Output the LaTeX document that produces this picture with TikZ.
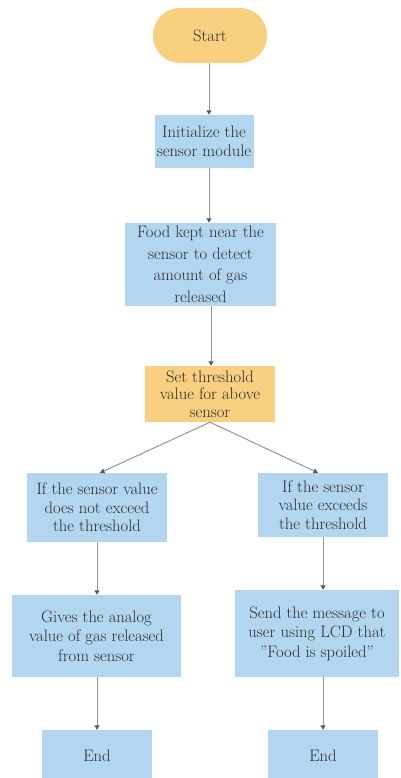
\documentclass[tikz,border=0pt]{standalone}
\usetikzlibrary{arrows.meta,calc}
\definecolor{boxblue}{RGB}{178,214,240}
\definecolor{boxorange}{RGB}{249,208,128}
\definecolor{linegray}{RGB}{150,150,150}
\definecolor{textgray}{RGB}{45,45,45}
\definecolor{tipgray}{RGB}{90,90,90}
\begin{document}
\begin{tikzpicture}[x=1pt,y=-1pt,
  every node/.style={font=\fontsize{16.6}{19.5}\selectfont, text=textgray, align=center, inner sep=0pt},
  blue/.style={fill=boxblue, minimum width=#1},
  orangebox/.style={fill=boxorange},
  conn/.style={draw=linegray, line width=1pt, -{Triangle[width=5pt,length=4.5pt,color=tipgray]}}
]
\useasboundingbox (0,0) rectangle (401,778);
\fill[white] (0,0) rectangle (401,778);

\node[fill=boxorange, minimum width=114pt, minimum height=55pt, rounded corners=27pt] (start) at (210,35.5) {Start};
\node[blue=99pt, minimum height=53pt] (init) at (204,141.5) {Initialize the\\sensor module};
\node[blue=151pt, minimum height=83pt] (food) at (200.5,264.5) {Food kept near the\\[2pt]sensor to detect\\[2pt]amount of gas\\[2pt]released};
\node[orangebox, minimum width=130pt, minimum height=56pt] (thr) at (210,394) {Set threshold\\[-2pt]value for above\\[-2pt]sensor};
\node[blue=140pt, minimum height=69pt] (condL) at (97,507.5) {If the sensor value\\[-1pt]does not exceed\\[-1pt]the threshold};
\node[blue=130pt, minimum height=64pt] (condR) at (323,505) {If the sensor\\[-1pt]value exceeds\\[-1pt]the threshold};
\node[blue=169pt, minimum height=82pt] (actL) at (96.5,636) {Gives the analog\\value of gas released\\from sensor};
\node[blue=164pt, minimum height=87pt] (actR) at (317,633.5) {Send the message to\\user using LCD that\\"Food is spoiled"};
\node[blue=110pt, minimum height=52pt] (endL) at (97,756) {End};
\node[blue=110pt, minimum height=52pt] (endR) at (323,756) {End};

\coordinate (a1) at ($(start.south)+(-1,0)$);
\draw[conn] (a1) -- (a1 |- init.north);
\coordinate (a2) at (209,0);
\draw[conn] (a2 |- init.south) -- (a2 |- food.north);
\coordinate (a3) at (211,0);
\draw[conn] (a3 |- food.south) -- (a3 |- thr.north);
\draw[conn] (thr.south) -- ($(condL.north)+(3,0)$);
\draw[conn] (thr.south) -- ($(condR.north)+(-5,0)$);
\draw[conn] (condL.south) -- (condL.south |- actL.north);
\draw[conn] (condR.south) -- (condR.south |- actR.north);
\draw[conn] (actL.south -| endL) -- (endL.north);
\draw[conn] (actR.south -| endR) -- (endR.north);
\end{tikzpicture}
\end{document}
